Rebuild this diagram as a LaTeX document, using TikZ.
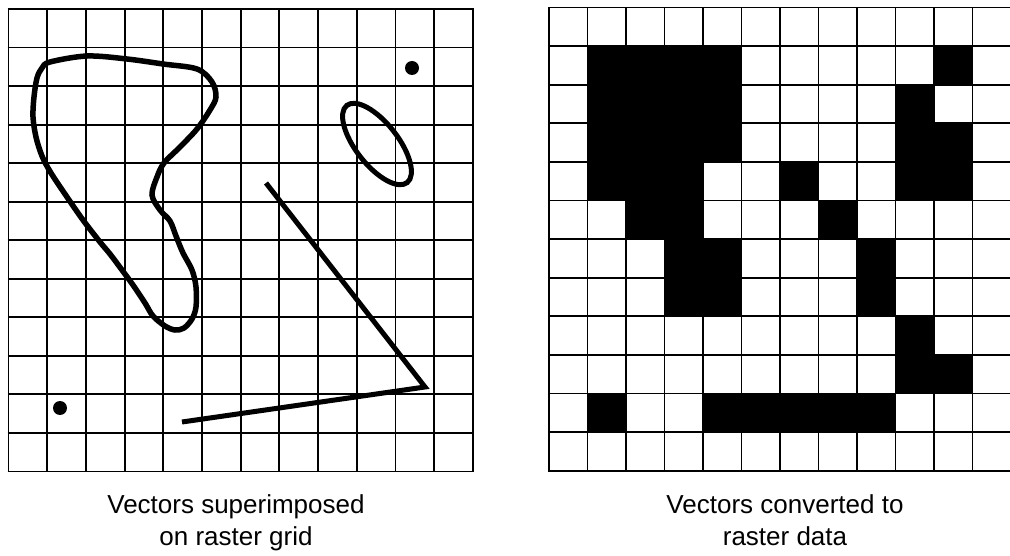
\documentclass[tikz,border=0pt]{standalone}
\usepackage{fontspec}
\setmainfont{Liberation Sans}
\begin{document}
\begin{tikzpicture}[x=1pt,y=-1pt,
  gridline/.style={line width=1.9pt,black},
  vec/.style={line width=5pt,black,line join=miter},
  dotmark/.style={fill=black},
  cell/.style={fill=black},
  captext/.style={anchor=base,inner sep=0pt,font=\fontsize{26}{32}\selectfont}]
\useasboundingbox (0,0) rectangle (1010,556);
% ---------- left grid ----------
\foreach \i in {0,...,12}{
  \draw[gridline] ({8.5+\i*38.7},9) -- ({8.5+\i*38.7},471.5);
  \draw[gridline] (7.55,{9+\i*38.54}) -- (473.85,{9+\i*38.54});
}
% blob
\draw[vec,line width=5.5pt] plot[smooth cycle,tension=0.55] coordinates {
  (50,62) (87,56) (127,59) (163,64) (197,69) (212,82) (216,97) (210,110)
  (197,129) (180,147) (164,163) (157,177) (152,195) (160,210) (170,221)
  (176,236) (183,253) (192,270) (196,287) (196,307) (192,319) (184,328)
  (175,330) (165,326) (153,316) (145,303) (133,285) (122,270) (110,254)
  (100,242) (83,220) (67,197) (51,173) (42,156) (36,137) (33,117)
  (34,97) (37,78) (42,68)};
% ellipse
\draw[vec,line width=5pt,rotate around={-52:(377,144)}] (377,144) ellipse (49 and 21);
% polyline
\coordinate (pa) at (266,183);
\coordinate (pb) at (425,387);
\coordinate (pc) at (182,422);
\draw[vec] (pa) -- (pb) -- (pc);
% dots
\fill[dotmark] (412,68) circle (7);
\fill[dotmark] (60,408) circle (7);
% ---------- right grid ----------
\foreach \r/\c in {1/1,1/2,1/3,1/4,1/10,
                   2/1,2/2,2/3,2/4,2/9,
                   3/1,3/2,3/3,3/4,3/9,3/10,
                   4/1,4/2,4/3,4/6,4/9,4/10,
                   5/2,5/3,5/7,
                   6/3,6/4,6/8,
                   7/3,7/4,7/8,
                   8/9,
                   9/9,9/10,
                   10/1,10/4,10/5,10/6,10/7,10/8}{
  \fill[cell] ({549+\c*38.5},{7.5+\r*38.6}) rectangle ++(38.5,38.6);
}
\foreach \i in {0,...,12}{
  \draw[gridline] ({549+\i*38.5},7.5) -- ({549+\i*38.5},470.7);
  \draw[gridline] (548.05,{7.5+\i*38.6}) -- (1012,{7.5+\i*38.6});
}
% ---------- captions ----------
\node[captext] (capLa) at (236,513.3) {Vectors superimposed};
\node[captext] (capLb) at (236,545.7) {on raster grid};
\node[captext] (capRa) at (785,513.3) {Vectors converted to};
\node[captext] (capRb) at (785,545.7) {raster data};
\end{tikzpicture}
\end{document}
